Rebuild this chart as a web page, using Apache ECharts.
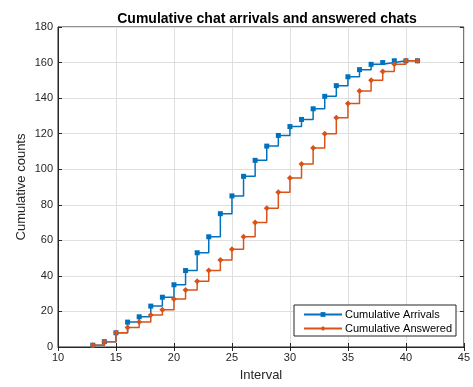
<!DOCTYPE html>
<html>
<head>
<meta charset="utf-8">
<script src="https://cdn.jsdelivr.net/npm/echarts@6/dist/echarts.min.js"></script>
<style>html,body{margin:0;padding:0;background:#fff}#c{width:473px;height:387px}</style>
</head>
<body>
<div id="c"></div>
<script>
var intervals = [13,14,15,16,17,18,19,20,21,22,23,24,25,26,27,28,29,30,31,32,33,34,35,36,37,38,39,40,41];
var arrivals  = [1,3,8,14,17,23,28,35,43,53,62,75,85,96,105,113,119,124,128,134,141,147,152,156,159,160,161,161,161];
var answered  = [1,3,8,11,14,18,21,27,32,37,43,49,55,62,70,78,87,95,103,112,120,129,137,144,150,155,159,161,161];
var xTicks = [10,15,20,25,30,35,40,45];
var yTicks = [0,20,40,60,80,100,120,140,160,180];

function pairs(xs, ys){ return xs.map(function(x,i){ return [x, ys[i]]; }); }

var font = 'Liberation Sans, Arial, Helvetica, sans-serif';
var axisCol = '#262626';
var chart = echarts.init(document.getElementById('c'));
chart.setOption({
  animation: false,
  textStyle: {fontFamily: font},
  title: {
    text: 'Cumulative chat arrivals and answered chats',
    left: 262, top: 7, textAlign: 'center',
    textStyle: {fontSize: 14, fontWeight: 'bold', color: '#000', fontFamily: font}
  },
  grid: {left: 58, right: 6, top: 27, bottom: 37, show: true, borderColor: axisCol, borderWidth: 1, containLabel: false},
  legend: {
    orient: 'vertical', right: 17, bottom: 51,
    itemWidth: 38, itemHeight: 6, itemGap: 3,
    borderColor: axisCol, borderWidth: 1, padding: [4, 4, 2, 9],
    backgroundColor: '#fff',
    textStyle: {fontSize: 11, color: '#000', fontFamily: font, padding: [0,0,0,-2]},
    data: ['Cumulative Arrivals', 'Cumulative Answered']
  },
  xAxis: [{
    type: 'value', min: xTicks[0], max: xTicks[xTicks.length-1], interval: 5,
    name: 'Interval', nameLocation: 'middle', nameGap: 22, nameMoveOverlap: false,
    nameTextStyle: {fontSize: 13, color: '#262626', fontFamily: font},
    axisLine: {show: true, lineStyle: {color: axisCol}},
    axisTick: {show: true, inside: true, length: 4, lineStyle: {color: axisCol}},
    axisLabel: {fontSize: 11, color: '#262626', margin: 5},
    splitLine: {show: true, lineStyle: {color: '#dfdfdf', width: 1}}
  }, {
    type: 'value', position: 'top', min: xTicks[0], max: xTicks[xTicks.length-1], interval: 5,
    axisLine: {show: false}, axisLabel: {show: false},
    axisTick: {show: true, inside: true, length: 4, lineStyle: {color: axisCol}},
    splitLine: {show: false}
  }],
  yAxis: [{
    type: 'value', min: yTicks[0], max: yTicks[yTicks.length-1], interval: 20,
    name: 'Cumulative counts', nameLocation: 'middle', nameGap: 30, nameMoveOverlap: false,
    nameTextStyle: {fontSize: 13, color: '#262626', fontFamily: font},
    axisLine: {show: true, lineStyle: {color: axisCol}},
    axisTick: {show: true, inside: true, length: 4, lineStyle: {color: axisCol}},
    axisLabel: {fontSize: 11, color: '#262626', margin: 5},
    splitLine: {show: true, lineStyle: {color: '#dfdfdf', width: 1}}
  }, {
    type: 'value', position: 'right', min: yTicks[0], max: yTicks[yTicks.length-1], interval: 20,
    axisLine: {show: false}, axisLabel: {show: false},
    axisTick: {show: true, inside: true, length: 4, lineStyle: {color: axisCol}},
    splitLine: {show: false}
  }],
  series: [{
    name: 'Cumulative Arrivals', type: 'line', step: 'end',
    data: pairs(intervals, arrivals),
    symbol: 'rect', symbolSize: 5, showAllSymbol: true,
    itemStyle: {color: '#0072BD'},
    lineStyle: {color: '#0072BD', width: 1.5}
  }, {
    name: 'Cumulative Answered', type: 'line', step: 'end',
    data: pairs(intervals, answered),
    symbol: 'diamond', symbolSize: 6, showAllSymbol: true,
    itemStyle: {color: '#D95319'},
    lineStyle: {color: '#D95319', width: 1.5}
  }]
});
</script>
</body>
</html>
